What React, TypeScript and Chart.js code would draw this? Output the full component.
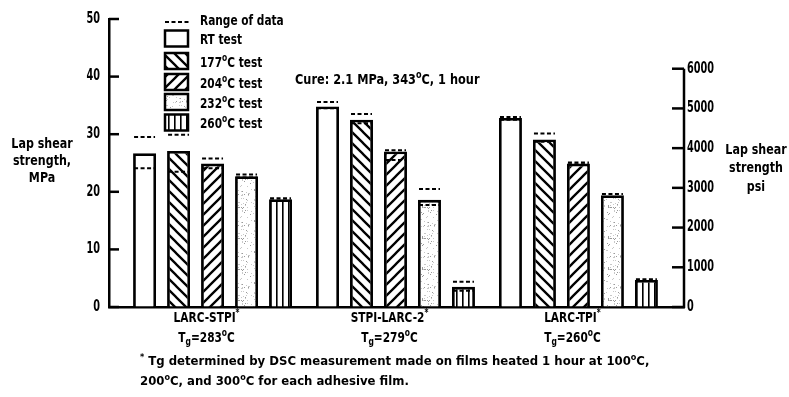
import React, { useEffect, useRef } from 'react';
import { Chart, registerables } from 'chart.js';

Chart.register(...registerables);

// ---- data ----
const materials = ['LARC-STPI', 'STPI-LARC-2', 'LARC-TPI'];
const tgValues = ['283°C', '279°C', '260°C'];
const testNames = ['RT test', '177°C test', '204°C test', '232°C test', '260°C test'];
const rtTest = [26.7, 34.8, 32.8];
const test177 = [27.1, 32.5, 29.1];
const test204 = [24.9, 27.0, 24.9];
const test232 = [22.7, 18.6, 19.4];
const test260 = [18.7, 3.5, 4.7];
const rtRange = [[24.1, 29.5], [34.5, 35.6], [32.5, 33.0]];
const range177 = [[23.5, 29.9], [31.9, 33.5], [28.7, 30.1]];
const range204 = [[24.1, 25.8], [25.5, 27.2], [24.8, 25.1]];
const range232 = [[22.5, 23.0], [17.7, 20.5], [19.1, 19.6]];
const range260 = [[18.5, 18.9], [2.8, 4.4], [4.5, 4.8]];
const mpaTicks = [0, 10, 20, 30, 40, 50];
const psiTicks = [0, 1000, 2000, 3000, 4000, 5000, 6000];
const PSI_PER_MPA = 145.038;
const cureNote = 'Cure: 2.1 MPa, 343°C, 1 hour';
const footLine1 = 'Tg determined by DSC measurement made on films heated 1 hour at 100°C,';
const footLine2 = '200°C, and 300°C for each adhesive film.';

const seriesValues = [rtTest, test177, test204, test232, test260];
const seriesRanges = [rtRange, range177, range204, range232, range260];
const FONT = '"DejaVu Sans Condensed", "DejaVu Sans", sans-serif';

function makePattern(kind: string): any {
  const c = document.createElement('canvas');
  const ctx = c.getContext('2d')!;
  if (kind === 'back' || kind === 'fwd') {
    const s = 11;
    c.width = s; c.height = s;
    ctx.fillStyle = '#fff'; ctx.fillRect(0, 0, s, s);
    ctx.strokeStyle = '#000'; ctx.lineWidth = 2.3;
    ctx.beginPath();
    if (kind === 'back') {
      ctx.moveTo(-2, -2); ctx.lineTo(s + 2, s + 2);
      ctx.moveTo(-2, s - 2); ctx.lineTo(2, s + 2);
      ctx.moveTo(s - 2, -2); ctx.lineTo(s + 2, 2);
    } else {
      ctx.moveTo(-2, s + 2); ctx.lineTo(s + 2, -2);
      ctx.moveTo(-2, 2); ctx.lineTo(2, -2);
      ctx.moveTo(s - 2, s + 2); ctx.lineTo(s + 2, s - 2);
    }
    ctx.stroke();
  } else if (kind === 'dots') {
    const s = 31;
    c.width = s; c.height = s;
    ctx.fillStyle = '#fff'; ctx.fillRect(0, 0, s, s);
    let seed = 12345;
    const next = () => { seed = (seed * 1103515245 + 12345) % 2147483648; return seed / 2147483648; };
    for (let i = 0; i < 95; i++) {
      const x = Math.floor(next() * s);
      const y = Math.floor(next() * s);
      ctx.fillStyle = next() < 0.4 ? '#9a9a9a' : '#c8c8c8';
      ctx.fillRect(x, y, 1, 1);
    }
  } else if (kind === 'vert') {
    const s = 6;
    c.width = s; c.height = s;
    ctx.fillStyle = '#fff'; ctx.fillRect(0, 0, s, s);
    ctx.fillStyle = '#000'; ctx.fillRect(0, 0, 1.6, s);
  } else {
    return '#ffffff';
  }
  return ctx.createPattern(c, 'repeat');
}

type Part = { t: string; mode?: string };

function drawParts(ctx: CanvasRenderingContext2D, parts: Part[], x: number, y: number, size: number, align: string, sx = 1) {
  const measure = (p: Part) => {
    ctx.font = `bold ${p.mode ? Math.round(size * 0.7) : size}px ${FONT}`;
    return ctx.measureText(p.t).width * sx;
  };
  const total = parts.reduce((a, p) => a + measure(p), 0);
  let cx = align === 'center' ? x - total / 2 : align === 'right' ? x - total : x;
  ctx.textAlign = 'left';
  ctx.textBaseline = 'middle';
  for (const p of parts) {
    const w = measure(p);
    const dy = p.mode === 'sup' ? -size * 0.35 : p.mode === 'sub' ? size * 0.35 : 0;
    ctx.save();
    ctx.translate(cx, y + dy);
    ctx.scale(sx, 1);
    ctx.fillText(p.t, 0, 0);
    ctx.restore();
    cx += w;
  }
}

function degParts(s: string): Part[] {
  // render "°C" with a raised small o, like the original typesetting
  const out: Part[] = [];
  const pieces = s.split('°');
  pieces.forEach((p, i) => {
    if (i > 0) out.push({ t: 'o', mode: 'sup' });
    if (p) out.push({ t: p });
  });
  return out;
}

const decorPlugin = {
  id: 'decor',
  afterDatasetsDraw(chart: any) {
    const ctx = chart.ctx as CanvasRenderingContext2D;
    const yS = chart.scales.y;
    ctx.save();
    ctx.strokeStyle = '#000';
    ctx.lineWidth = 2;
    ctx.setLineDash([4, 2.5]);
    chart.data.datasets.forEach((ds: any, di: number) => {
      const meta = chart.getDatasetMeta(di);
      meta.data.forEach((el: any, i: number) => {
        const { x, width } = el.getProps(['x', 'width'], true);
        const r = seriesRanges[di][i];
        r.forEach((v: number) => {
          const py = yS.getPixelForValue(v);
          ctx.beginPath();
          ctx.moveTo(x - width / 2 + 1, py);
          ctx.lineTo(x + width / 2 - 1, py);
          ctx.stroke();
        });
      });
    });
    ctx.restore();
  },
  afterDraw(chart: any) {
    const ctx = chart.ctx as CanvasRenderingContext2D;
    const area = chart.chartArea;
    const yS = chart.scales.y;
    const y2 = chart.scales.y2;
    const xS = chart.scales.x;
    ctx.save();
    ctx.strokeStyle = '#000';
    ctx.fillStyle = '#000';
    // tick marks (inward) and labels
    ctx.lineWidth = 2.5;
    mpaTicks.forEach((v) => {
      const py = yS.getPixelForValue(v);
      ctx.beginPath(); ctx.moveTo(area.left, py); ctx.lineTo(area.left + 10, py); ctx.stroke();
      drawParts(ctx, [{ t: String(v) }], area.left - 9, py, 15, 'right', 0.72);
    });
    psiTicks.forEach((v) => {
      const py = y2.getPixelForValue(v);
      ctx.beginPath(); ctx.moveTo(area.right - 12, py); ctx.lineTo(area.right, py); ctx.stroke();
      drawParts(ctx, [{ t: String(v) }], area.right + 3, py, 15, 'left', 0.72);
    });
    // right axis line 0..6000
    ctx.lineWidth = 2.5;
    ctx.beginPath();
    ctx.moveTo(area.right, y2.getPixelForValue(0) + 1);
    ctx.lineTo(area.right, y2.getPixelForValue(psiTicks[psiTicks.length - 1]));
    ctx.stroke();

    // axis titles
    ['Lap shear', 'strength,', 'MPa'].forEach((t, i) => drawParts(ctx, [{ t }], 42, 144 + i * 17, 14, 'center', 0.88));
    ['Lap shear', 'strength', 'psi'].forEach((t, i) => drawParts(ctx, [{ t }], 756, 150 + i * 18.5, 14, 'center', 0.88));

    // cure note
    drawParts(ctx, degParts(cureNote), 295, 80, 14, 'left', 0.9);

    // legend
    const lx = 165;
    ctx.lineWidth = 2;
    ctx.setLineDash([4, 2.5]);
    ctx.beginPath(); ctx.moveTo(lx, 22); ctx.lineTo(lx + 25, 22); ctx.stroke();
    ctx.setLineDash([]);
    drawParts(ctx, [{ t: 'Range of data' }], 200, 21, 14, 'left', 0.84);
    const boxY = [38.5, 61, 82, 102, 122.5];
    chart.data.datasets.forEach((ds: any, i: number) => {
      const cy = boxY[i];
      ctx.fillStyle = ds.backgroundColor;
      ctx.fillRect(lx, cy - 8, 23, 16);
      ctx.lineWidth = 2.5;
      ctx.strokeStyle = '#000';
      ctx.strokeRect(lx, cy - 8, 23, 16);
      ctx.fillStyle = '#000';
      drawParts(ctx, degParts(testNames[i]), 200, cy + 2, 14, 'left', 0.84);
    });

    // x labels
    materials.forEach((name, i) => {
      const px = xS.getPixelForValue(i) - 6;
      drawParts(ctx, [{ t: name }, { t: '*', mode: 'sup' }], px, 318, 14, 'center', 0.84);
      drawParts(ctx, [{ t: 'T' }, { t: 'g', mode: 'sub' }, { t: '=' }, ...degParts(tgValues[i])], px, 338, 14, 'center', 0.84);
    });

    // footnote
    drawParts(ctx, [{ t: '*', mode: 'sup' }, { t: ' ' }, ...degParts(footLine1)], 140, 362, 13, 'left', 1);
    drawParts(ctx, degParts(footLine2), 140, 382, 13, 'left', 1);
    ctx.restore();
  },
};

export default function App() {
  const ref = useRef<HTMLCanvasElement>(null);
  useEffect(() => {
    const patterns = [makePattern('white'), makePattern('back'), makePattern('fwd'), makePattern('dots'), makePattern('vert')];
    const chart = new Chart(ref.current!, {
      type: 'bar',
      data: {
        datasets: seriesValues.map((vals, si) => ({
          label: testNames[si],
          data: vals.map((v, i) => ({ x: i, y: v })),
          backgroundColor: patterns[si],
          borderColor: '#000',
          borderWidth: 2.8,
          borderSkipped: 'start',
          categoryPercentage: 0.929,
          barPercentage: 0.676,
        })) as any,
      },
      options: {
        responsive: false,
        animation: false,
        layout: { padding: { top: 19, left: 0, right: 0, bottom: 0 } },
        plugins: { legend: { display: false }, tooltip: { enabled: false }, title: { display: false } },
        scales: {
          x: {
            type: 'linear',
            min: -0.566,
            max: 2.577,
            offset: false,
            grid: { display: false, drawTicks: false },
            border: { display: true, color: '#000', width: 2.5 },
            ticks: { display: false },
            afterBuildTicks: (s: any) => { s.ticks = materials.map((_, i) => ({ value: i })); },
            afterFit: (s: any) => { s.height = 397 - 307; },
          },
          y: {
            position: 'left',
            min: 0,
            max: 50,
            grid: { drawOnChartArea: false, drawTicks: false },
            border: { display: true, color: '#000', width: 2.5 },
            ticks: { display: false, stepSize: 10 },
            afterFit: (s: any) => { s.width = 109; },
          },
          y2: {
            position: 'right',
            min: 0,
            max: 50 * PSI_PER_MPA,
            grid: { drawOnChartArea: false, drawTicks: false },
            border: { display: false },
            ticks: { display: false, stepSize: 1000 },
            afterFit: (s: any) => { s.width = 789 - 684; },
          },
        },
      } as any,
      plugins: [decorPlugin],
    });
    return () => chart.destroy();
  }, []);
  return (
    <div style={{ position: 'fixed', left: 0, top: 0, width: 789, height: 397, background: '#fff' }}>
      <canvas ref={ref} width={789} height={397} />
    </div>
  );
}
